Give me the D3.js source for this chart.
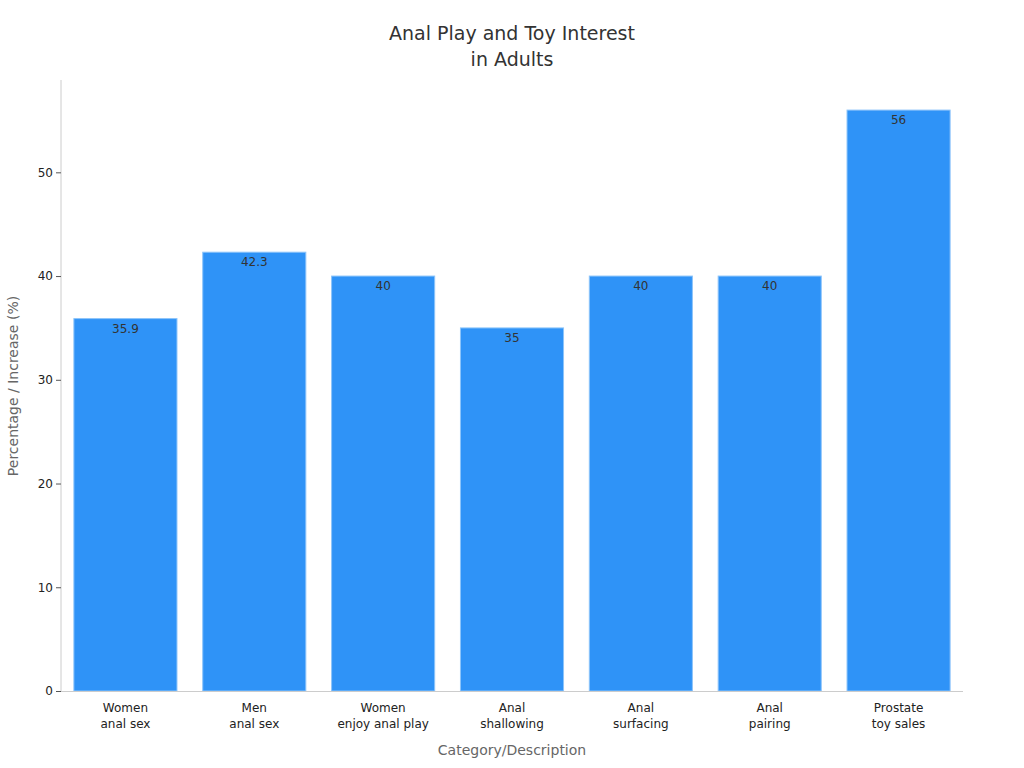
<!DOCTYPE html>
<html><head><meta charset="utf-8">
<script src="https://cdn.jsdelivr.net/npm/d3@7"></script>
<style>body{margin:0;background:#fff;font-family:"DejaVu Sans",sans-serif}</style>
</head><body><svg id="c" width="1024" height="768"></svg>
<script>
const categories = [["Women","anal sex"],["Men","anal sex"],["Women","enjoy anal play"],["Anal","shallowing"],["Anal","surfacing"],["Anal","pairing"],["Prostate","toy sales"]];
const values = [35.9, 42.3, 40, 35, 40, 40, 56];
const yTicks = [0,10,20,30,40,50];
const titleLines = ["Anal Play and Toy Interest","in Adults"];

const svg = d3.select("#c");
const m = {l:61, r:963, t:80, b:691};
const x = d3.scaleBand().domain(categories.map((d,i)=>i)).range([m.l,m.r]).paddingInner(0.2).paddingOuter(0.1);
const y = d3.scaleLinear().domain([0,58.9]).range([m.b,m.t]);

svg.append("g").selectAll("rect").data(values).join("rect")
  .attr("x",(d,i)=>x(i)).attr("width",x.bandwidth())
  .attr("y",d=>y(d)).attr("height",d=>m.b-y(d))
  .attr("fill","#2f93f7").attr("stroke","#8cc4fa").attr("stroke-width",1);

svg.append("g").selectAll("text").data(values).join("text")
  .attr("x",(d,i)=>x(i)+x.bandwidth()/2).attr("y",d=>y(d)+14)
  .attr("text-anchor","middle").attr("font-size",12).attr("fill","#333").text(d=>d);

const ya = svg.append("g").attr("transform",`translate(${m.l},0)`)
  .call(d3.axisLeft(y).tickValues(yTicks).tickSize(5).tickPadding(3));
ya.select(".domain").attr("stroke","#ccc").attr("d",`M0,${m.b}V${m.t}`);
ya.selectAll(".tick line").attr("stroke","#555");
ya.selectAll("text").attr("font-size",12).attr("fill","#222").attr("font-family","DejaVu Sans");

svg.append("line").attr("x1",m.l).attr("x2",m.r).attr("y1",m.b+0.5).attr("y2",m.b+0.5).attr("stroke","#ccc");

const xl = svg.append("g").selectAll("text").data(categories).join("text")
  .attr("text-anchor","middle").attr("font-size",12).attr("fill","#222");
xl.each(function(d,i){
  const t=d3.select(this);
  d.forEach((s,j)=>t.append("tspan").attr("x",x(i)+x.bandwidth()/2).attr("y",712+j*16).text(s));
});

svg.append("text").attr("x",512).attr("y",755).attr("text-anchor","middle").attr("font-size",14).attr("fill","#666").text("Category/Description");
svg.append("text").attr("transform","translate(18,386) rotate(-90)").attr("text-anchor","middle").attr("font-size",14).attr("fill","#666").text("Percentage / Increase (%)");

svg.append("g").selectAll("text").data(titleLines).join("text")
  .attr("x",512).attr("y",(d,i)=>40+i*26).attr("text-anchor","middle").attr("font-size",19).attr("fill","#333").text(d=>d);
</script></body></html>
